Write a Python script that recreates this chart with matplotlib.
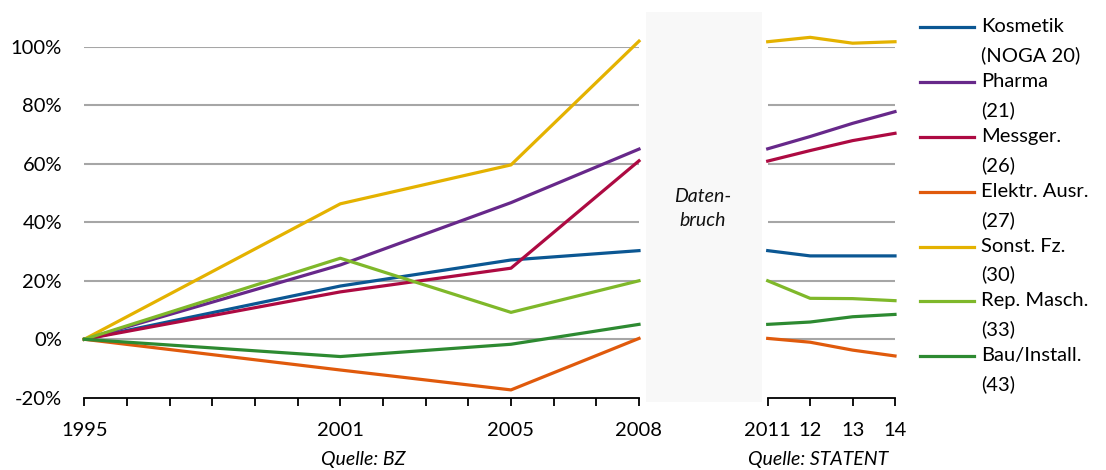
import matplotlib
matplotlib.use("Agg")
import matplotlib.pyplot as plt
from matplotlib.lines import Line2D
from matplotlib.patches import Rectangle

plt.rcParams['font.family'] = ['Lato', 'DejaVu Sans']

# BZ years (1995-2008) and STATENT years (2011-2014), change vs. 1995 in %
years_bz = [1995, 2001, 2005, 2008]
years_statent = [2011, 2012, 2013, 2014]

labels = ["Kosmetik\n(NOGA 20)", "Pharma\n(21)", "Messger.\n(26)", "Elektr. Ausr.\n(27)",
	"Sonst. Fz.\n(30)", "Rep. Masch.\n(33)", "Bau/Install.\n(43)"]
colors = ["#0b5793", "#67288a", "#ad0a42", "#e05a0c", "#e4b200", "#7fb82a", "#2d8a31"]

kosmetik_bz = [0, 18.2, 27.1, 30.3]
pharma_bz = [0, 25.4, 46.7, 65.0]
messger_bz = [0, 16.2, 24.3, 61.0]
elektr_bz = [0, -10.5, -17.3, 0.3]
sonst_bz = [0, 46.3, 59.6, 101.9]
rep_bz = [0, 27.7, 9.2, 20.0]
bau_bz = [0, -5.9, -1.7, 5.1]

kosmetik_st = [30.3, 28.5, 28.5, 28.5]
pharma_st = [65.1, 69.3, 73.8, 77.8]
messger_st = [60.9, 64.5, 67.9, 70.4]
elektr_st = [0.3, -1.0, -3.7, -5.7]
sonst_st = [101.7, 103.2, 101.2, 101.7]
rep_st = [20.0, 14.0, 13.9, 13.2]
bau_st = [5.1, 5.9, 7.7, 8.5]

series_bz = [kosmetik_bz, pharma_bz, messger_bz, elektr_bz, sonst_bz, rep_bz, bau_bz]
series_st = [kosmetik_st, pharma_st, messger_st, elektr_st, sonst_st, rep_st, bau_st]

yticks = [-20, 0, 20, 40, 60, 80, 100]
ytick_labels = ["-20%", "0%", "20%", "40%", "60%", "80%", "100%"]
xlabels_bz = {1995: "1995", 2001: "2001", 2005: "2005", 2008: "2008"}
xlabels_st = ["2011", "12", "13", "14"]

W, H = 1106, 470
fig = plt.figure(figsize=(W / 100, H / 100), dpi=100)

# "Datenbruch" band between the two panels
fig.add_artist(Rectangle((645.7 / W, 1 - 401.7 / H), 116 / W, 390 / H,
	transform=fig.transFigure, facecolor="#f8f8f8", edgecolor="none", zorder=0))
fig.text(703 / W, 1 - 208 / H, "Daten-\nbruch", style="italic", fontsize=14,
	ha="center", va="center", linespacing=1.5, color="#111111")

ax1 = fig.add_axes([84.3 / W, 1 - 397.8 / H, (639 - 84.3) / W, (397.8 - 46.7) / H])
ax2 = fig.add_axes([767.7 / W, 1 - 397.8 / H, (895 - 767.7) / W, (397.8 - 46.7) / H])

for ax in (ax1, ax2):
	ax.set_facecolor("none")
	ax.set_ylim(-20, 100)
	ax.set_yticks(yticks)
	for v in yticks[1:]:
		ax.axhline(v, color="#a6a6a6", lw=1.5, zorder=1)
	for s in ("top", "right", "left"):
		ax.spines[s].set_visible(False)
	ax.spines["bottom"].set_color("black")
	ax.spines["bottom"].set_linewidth(1.3)
	ax.tick_params(axis="x", direction="out", length=5.5, width=1.3, pad=12, labelsize=14.5)
	ax.tick_params(axis="y", length=0, pad=16, labelsize=14.5)

ax1.set_yticklabels(ytick_labels)
ax2.set_yticklabels([])

ax1.set_xlim(1995, 2008)
ax1.set_xticks(range(1995, 2009))
ax1.set_xticklabels([xlabels_bz.get(y, "") for y in range(1995, 2009)])
ax2.set_xlim(2011, 2014)
ax2.set_xticks(years_statent)
ax2.set_xticklabels(xlabels_st)

for vals, c in zip(series_bz, colors):
	ax1.plot(years_bz, vals, color=c, lw=2.3, clip_on=False, zorder=3)
for vals, c in zip(series_st, colors):
	ax2.plot(years_statent, vals, color=c, lw=2.3, clip_on=False, zorder=3)

fig.text(363.5 / W, 1 - 460 / H, "Quelle: BZ", style="italic", fontsize=14,
	ha="center", va="center")
fig.text(818 / W, 1 - 460 / H, "Quelle: STATENT", style="italic", fontsize=14,
	ha="center", va="center")

# legend, handle next to the first line of each label
for i, (lab, c) in enumerate(zip(labels, colors)):
	y = 1 - (27.3 + i * 54.8) / H
	fig.add_artist(Line2D([920 / W, 974 / W], [y, y], transform=fig.transFigure,
		color=c, lw=2.3))
	fig.text(981 / W, y + 9 / H, lab, fontsize=14.5, ha="left", va="top",
		linespacing=1.75)

fig.savefig("out.png", dpi=100)
